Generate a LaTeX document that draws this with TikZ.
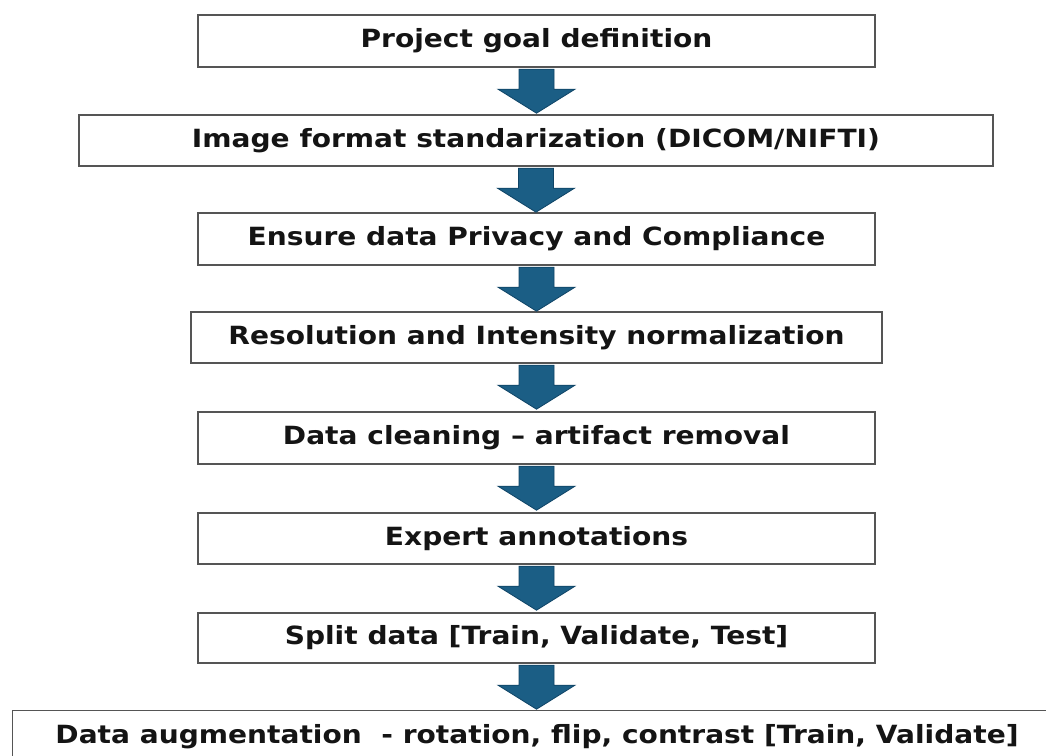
\documentclass[tikz,border=0pt]{standalone}
\usepackage{fontspec}
\setmainfont{DejaVu Sans}[FakeStretch=1.12]
\usetikzlibrary{calc}
\definecolor{arrowfill}{HTML}{1B5E85}
\definecolor{arrowedge}{HTML}{0F4466}
\definecolor{boxedge}{HTML}{555555}
\tikzset{
  boxtext/.style={font=\fontsize{18.8}{22}\selectfont\bfseries, text=black!92},
  stepbox/.style={draw=boxedge, line width=1.1pt, fill=white, inner sep=0pt, boxtext},
  flowarrow/.style={fill=arrowfill, draw=arrowedge, line width=0.6pt, line join=miter}
}
\newcommand{\downarrowbetween}[2]{%
  \path let \p1=(#1.south) in
    [flowarrow] (\x1-13.125pt,\y1-1.1pt) -- (\x1+13.125pt,\y1-1.1pt)
    -- (\x1+13.125pt,\y1-16.1pt) -- (\x1+28.875pt,\y1-16.1pt)
    -- (\x1,\y1-34.1pt) -- (\x1-28.875pt,\y1-16.1pt)
    -- (\x1-13.125pt,\y1-16.1pt) -- cycle;}
\begin{document}
\begin{tikzpicture}[x=0.75pt,y=-0.75pt]
\useasboundingbox (0,0) rectangle (1046,756);
\clip (0,0) rectangle (1046,756);
\fill[white] (0,0) rectangle (1046,756);
\node[stepbox, minimum width=507.75pt, minimum height=39pt] (b1) at (536.5,41) {Project goal definition};
\node[stepbox, minimum width=685.5pt, minimum height=38.25pt] (b2) at (536,140.5) {Image format standarization (DICOM/NIFTI)};
\node[stepbox, minimum width=507.75pt, minimum height=39pt] (b3) at (536.5,239) {Ensure data Privacy and Compliance};
\node[stepbox, minimum width=518.25pt, minimum height=38.25pt] (b4) at (536.5,337.5) {Resolution and Intensity normalization};
\node[stepbox, minimum width=507.75pt, minimum height=39pt] (b5) at (536.5,438) {Data cleaning – artifact removal};
\node[stepbox, minimum width=507.75pt, minimum height=38.25pt] (b6) at (536.5,538.5) {Expert annotations};
\node[stepbox, minimum width=507.75pt, minimum height=37.5pt] (b7) at (536.5,638) {Split data [Train, Validate, Test]};
\node[stepbox, minimum width=786pt, minimum height=42pt, anchor=north west] (b8) at (12,710) {};
\node[boxtext, inner sep=0pt] (t8) at (537,737) {Data augmentation\ \ - rotation, flip, contrast [Train, Validate]};
\downarrowbetween{b1}{b2}
\downarrowbetween{b2}{b3}
\downarrowbetween{b3}{b4}
\downarrowbetween{b4}{b5}
\downarrowbetween{b5}{b6}
\downarrowbetween{b6}{b7}
\downarrowbetween{b7}{b8}
\end{tikzpicture}
\end{document}
